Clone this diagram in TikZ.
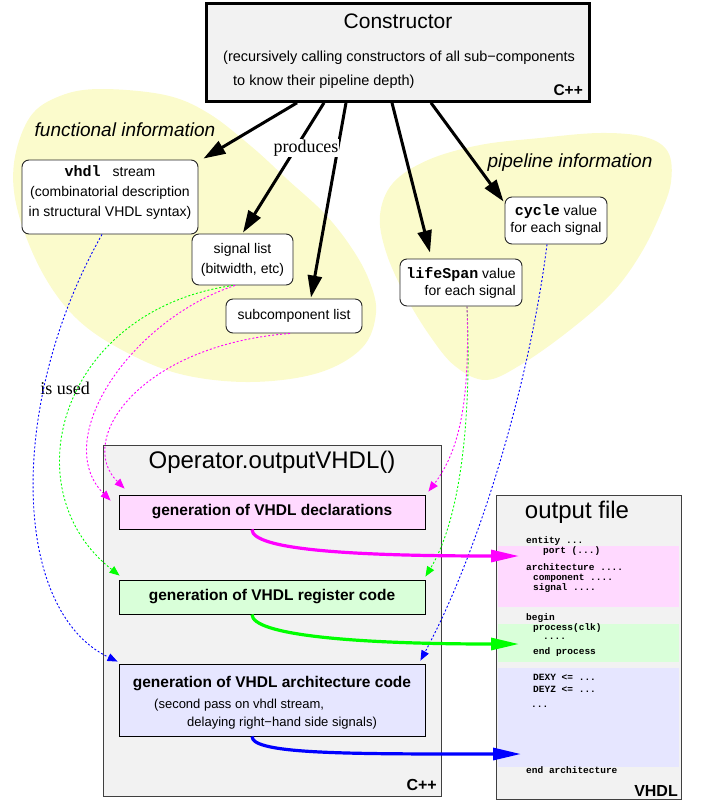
\documentclass[tikz,border=0pt]{standalone}
\usepackage{fontspec}
\setmainfont{Liberation Sans}
\setmonofont{Liberation Mono}
\newfontfamily\seriffnt{Liberation Serif}
\usetikzlibrary{arrows.meta,calc}
\definecolor{blobyellow}{RGB}{251,251,204}
\definecolor{boxgray}{RGB}{242,242,242}
\definecolor{pinkfill}{RGB}{255,217,255}
\definecolor{greenfill}{RGB}{217,255,217}
\definecolor{bluefill}{RGB}{230,230,255}
\definecolor{mag}{RGB}{255,0,255}
\definecolor{grn}{RGB}{0,255,0}
\definecolor{blu}{RGB}{0,0,255}
\begin{document}
\begin{tikzpicture}[x=1pt,y=-1pt,
  lbl/.style={inner sep=0pt},
  infobox/.style={draw=black!85,line width=0.9pt,rounded corners=7pt,fill=white,inner sep=0pt,align=center},
  genbox/.style={draw=black,line width=0.9pt,inner sep=0pt,font=\fontsize{15.5}{18}\selectfont\bfseries},
  bigbox/.style={draw=black!75,fill=boxgray,line width=1.2pt,inner sep=0pt},
  bigarrow/.style={line width=3pt,-{Triangle[length=22pt,width=14pt]}},
  fatarrow/.style={line width=3.2pt,-{Triangle[length=28pt,width=12pt]}},
  dotarrow/.style={line width=0.9pt,dash pattern=on 2pt off 2pt,-{Triangle[length=10pt,width=8pt]}},
  codeline/.style={inner sep=0pt,anchor=west,font=\fontsize{9.5}{11}\selectfont\ttfamily\bfseries}
]
\useasboundingbox (0,0) rectangle (702,801);

% yellow blobs
\fill[blobyellow] plot[smooth cycle, tension=0.6] coordinates {
  (100,89) (165,95) (208,113) (252,147) (288,180) (324,213) (351,247) (369,280)
  (376,313) (362,348) (318,373) (250,382) (180,374) (122,350) (76,318) (42,272)
  (18,212) (14,163) (30,117) (60,96)};
\fill[blobyellow] plot[smooth cycle, tension=0.6] coordinates {
  (540,138) (600,133) (645,137) (668,152) (671,182) (660,215) (640,255) (612,293)
  (570,330) (522,364) (486,380) (455,366) (430,336) (405,295) (386,252) (380,215)
  (393,183) (428,160) (480,145)};

\node[lbl, font=\fontsize{19}{22}\selectfont\itshape] (funclbl) at (125,130) {functional information};
\node[lbl, font=\fontsize{19}{22}\selectfont\itshape] (pipelbl) at (570,163) {pipeline information};

% constructor
\node[draw=black, fill=boxgray, line width=2.6pt, minimum width=383pt, minimum height=98pt, inner sep=0pt] (ctor) at (398,52.5) {};
\node[lbl, font=\fontsize{21}{25}\selectfont] (ctortitle) at (398,21) {Constructor};
\node[lbl, anchor=west, font=\fontsize{14.5}{17}\selectfont] (ctorl1) at (223,58) {(recursively calling constructors of all sub−components};
\node[lbl, anchor=west, font=\fontsize{14.5}{17}\selectfont] (ctorl2) at (233,82) {to know their pipeline depth)};
\node[lbl, anchor=east, font=\fontsize{15.5}{18}\selectfont\bfseries] (ctorcpp) at (583,90) {C++};

% info boxes
\node[infobox, minimum width=176pt, minimum height=74pt, font=\fontsize{14}{20}\selectfont] (vhdl) at (110,197) {};
\node[lbl, align=center, font=\fontsize{14}{20}\selectfont] (vhdltxt) at (110,193)
  {{\fontsize{15}{20}\selectfont\ttfamily\bfseries vhdl}\hspace{12pt}stream\\(combinatorial description\\in structural VHDL syntax)};
\node[infobox, minimum width=101pt, minimum height=51pt, font=\fontsize{14}{20}\selectfont] (sig) at (242.5,259.5)
  {signal list\\(bitwidth, etc)};
\node[infobox, minimum width=136pt, minimum height=34pt, font=\fontsize{14}{20}\selectfont] (sub) at (294,316)
  {subcomponent list};
\node[infobox, minimum width=122pt, minimum height=47pt, align=right, font=\fontsize{14}{17}\selectfont] (life) at (461,282.5)
  {{\fontsize{15}{17}\selectfont\ttfamily\bfseries lifeSpan} value\\for each signal};
\node[infobox, minimum width=102pt, minimum height=47pt, font=\fontsize{14}{17}\selectfont] (cyc) at (556,220.5)
  {{\fontsize{15}{17}\selectfont\ttfamily\bfseries cycle} value\\for each signal};

% black arrows
\draw[bigarrow] ([xshift=-101pt]ctor.south) -- ([shift={(5,-1)}]vhdl.north east);
\draw[bigarrow] ([xshift=-74pt]ctor.south) -- ([shift={(0.5,-1)}]sig.north);
\draw[bigarrow] ([xshift=-52pt]ctor.south) -- ([shift={(17,-1)}]sub.north);
\draw[bigarrow] ([xshift=-6pt]ctor.south) -- ([shift={(-31,-6)}]life.north);
\draw[bigarrow] ([xshift=33pt]ctor.south) -- ([shift={(-1,5)}]cyc.north west);
\node[fill=white, inner sep=1pt, font=\fontsize{18}{20}\selectfont\seriffnt] (prod) at (306,148) {produces};
\node[lbl, font=\fontsize{18}{20}\selectfont\seriffnt] (used) at (65,388) {is used};

% operator box
\node[bigbox, minimum width=338pt, minimum height=351pt] (op) at (272.5,621) {};
\node[lbl, font=\fontsize{24}{28}\selectfont] (optitle) at (272,462) {Operator.outputVHDL()};
\node[lbl, anchor=east, font=\fontsize{16}{19}\selectfont\bfseries] (opcpp) at (437,785) {C++};
\node[genbox, fill=pinkfill, minimum width=306pt, minimum height=34pt] (decl) at (272,512) {generation of VHDL declarations};
\node[genbox, fill=greenfill, minimum width=306pt, minimum height=34pt] (reg) at (272,597) {generation of VHDL register code};
\node[genbox, fill=bluefill, minimum width=306pt, minimum height=72pt] (arch) at (272,700) {};
\node[lbl, font=\fontsize{15.5}{18}\selectfont\bfseries] (archtitle) at (272,684) {generation of VHDL architecture code};
\node[lbl, anchor=west, font=\fontsize{13}{15}\selectfont] (archl1) at (154,705) {(second pass on vhdl stream,};
\node[lbl, anchor=west, font=\fontsize{13}{15}\selectfont] (archl2) at (187,723) {delaying right−hand side signals)};

% output file box
\node[bigbox, minimum width=185pt, minimum height=304pt] (out) at (589,647.5) {};
\fill[pinkfill] (498,546) rectangle (679,607);
\fill[greenfill] (498,624) rectangle (679,662);
\fill[bluefill] (498,668) rectangle (679,767);
\node[lbl, font=\fontsize{24}{28}\selectfont] (outtitle) at (577,512) {output file};
\node[codeline] (k1) at (526,541) {entity ...};
\node[codeline] (k2) at (543,551) {port (...)};
\node[codeline] (k3) at (526,567) {architecture ....};
\node[codeline] (k4) at (533,578) {component ....};
\node[codeline] (k5) at (533,588) {signal ....};
\node[codeline] (k6) at (526,618) {begin};
\node[codeline] (k7) at (533,628) {process(clk)};
\node[codeline] (k8) at (543,639) {....};
\node[codeline] (k9) at (533,652) {end process};
\node[codeline] (k10) at (533,677) {DEXY <= ...};
\node[codeline] (k11) at (533,689) {DEYZ <= ...};
\node[codeline] (k12) at (531,707) {...};
\node[codeline] (k13) at (526,770) {end architecture};
\node[lbl, anchor=east, font=\fontsize{16}{19}\selectfont\bfseries] (outvhdl) at (678,791) {VHDL};

% dotted arrows
\draw[dotarrow, blu] ([xshift=-8pt]vhdl.south) .. controls (8,400) and (10,610) .. ([shift={(-1,-2)}]arch.north west);
\draw[dotarrow, grn] ([xshift=-9.5pt]sig.south) .. controls (60,310) and (10,490) .. ([shift={(1,-4)}]reg.north west);
\draw[dotarrow, mag] ([xshift=-7.5pt]sig.south) .. controls (130,320) and (50,440) .. ([shift={(-8,6)}]decl.north west);
\draw[dotarrow, mag] ([xshift=-4pt]sub.south) .. controls (140,345) and (75,440) .. ([shift={(6,-6)}]decl.north west);
\draw[dotarrow, grn] ([xshift=6pt]life.south) .. controls (472,420) and (460,520) .. ([shift={(0,-3)}]reg.north east);
\draw[dotarrow, mag] ([xshift=6pt]life.south) .. controls (470,400) and (460,450) .. ([shift={(3,-3)}]decl.north east);
\draw[dotarrow, blu] ([xshift=-9pt]cyc.south) .. controls (530,380) and (480,550) .. ([shift={(-5,-3)}]arch.north east);

% thick coloured arrows into output file
\coordinate (pe) at (519,556);
\coordinate (ge) at (519,644);
\coordinate (be) at (521,754);
\draw[fatarrow, mag] ([xshift=-20pt]decl.south) .. controls +(0,20) and +(-170,0) .. (pe);
\draw[fatarrow, grn] ([xshift=-20pt]reg.south) .. controls +(0,20) and +(-170,0) .. (ge);
\draw[fatarrow, blu] ([xshift=-20pt]arch.south) .. controls +(0,18) and +(-170,0) .. (be);
\end{tikzpicture}
\end{document}
